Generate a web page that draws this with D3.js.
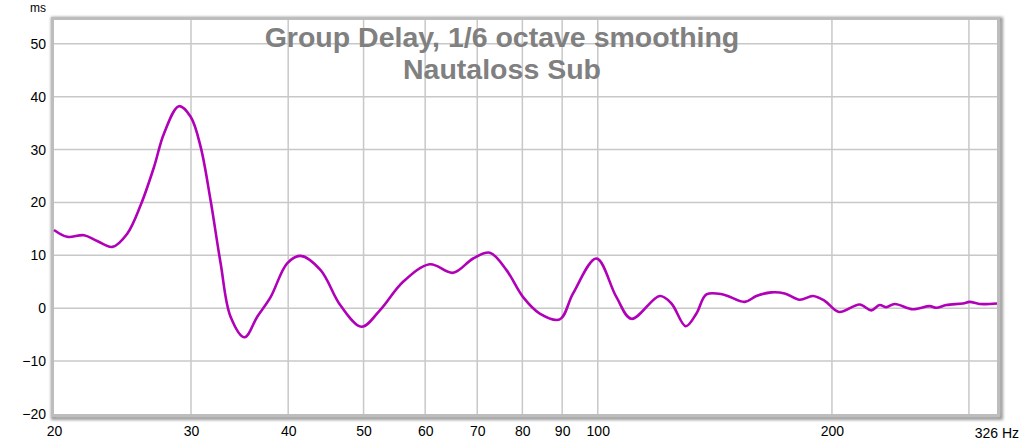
<!DOCTYPE html>
<html>
<head>
<meta charset="utf-8">
<script src="https://cdn.jsdelivr.net/npm/d3@7"></script>
<style>
  html, body { margin: 0; padding: 0; background: #fff; }
  svg { display: block; font-family: "Liberation Sans", Arial, sans-serif; }
</style>
</head>
<body>
<div class="gd-chart"></div>
<script>
const freqs = [20, 20.8, 21.86, 22.73, 23.77, 24.84, 25.85, 26.89, 27.69, 28.95,
  29.97, 30.87, 31.79, 32.75, 33.73, 35.16, 36.5, 37.97, 39.88, 41.5,
  44.03, 46.71, 49.71, 52.47, 56.21, 60.83, 65.18, 69.15, 72.65, 76.33,
  80.18, 84.23, 89.37, 92.96, 99.62, 105.69, 110.49, 120.14, 124.37, 129.74,
  133.92, 137.94, 144.88, 154.49, 159.93, 167.19, 173.89, 181.78, 189.07, 195.75,
  204.21, 217.1, 224.74, 230.34, 234.94, 240.8, 254.18, 267.06, 272.4, 280.58,
  294.7, 300.62, 309.63, 326];
const delayMs = [14.8, 13.5, 13.8, 12.7, 11.6, 14.1, 19.5, 26.7, 33, 38.2,
  36.2, 30.5, 20.4, 8.5, -1.6, -5.5, -1.6, 2.1, 8.5, 9.9,
  7.2, 0.5, -3.5, -0.4, 5.0, 8.3, 6.7, 9.4, 10.5, 7.2,
  2.1, -1.0, -2.1, 2.8, 9.4, 2.1, -2.0, 2.3, 0.9, -3.4,
  -1.0, 2.6, 2.6, 1.2, 2.3, 3.0, 2.8, 1.6, 2.3, 1.4,
  -0.7, 0.7, -0.4, 0.6, 0.2, 0.8, -0.2, 0.4, 0.1, 0.6,
  0.9, 1.2, 0.8, 0.9];

const xGrid = [30, 40, 50, 60, 70, 80, 90, 100, 200, 300];
const xLabels = [20, 30, 40, 50, 60, 70, 80, 90, 100, 200];
const yTicks = [-20, -10, 0, 10, 20, 30, 40, 50];
const titleLines = ["Group Delay, 1/6 octave smoothing", "Nautaloss Sub"];

const width = 1024, height = 445;
const margin = {top: 20, right: 27, bottom: 31, left: 54};

const svg = d3.select(".gd-chart").append("svg")
  .attr("width", width).attr("height", height);

const x = d3.scaleLog()
  .domain([20, 326])
  .range([margin.left, width - margin.right]);

const y = d3.scaleLinear()
  .domain([-20, 54.5])
  .range([height - margin.bottom, margin.top]);

// frame with soft shadow
const defs = svg.append("defs");
const blur = defs.append("filter").attr("id", "shadow")
  .attr("x", "-5%").attr("y", "-5%").attr("width", "110%").attr("height", "110%");
blur.append("feGaussianBlur").attr("stdDeviation", 1.5);

const x0 = x.range()[0], x1 = x.range()[1];
const y0 = y.range()[1], y1 = y.range()[0];

svg.append("rect")
  .attr("x", x0 - 1).attr("y", y0 - 1)
  .attr("width", x1 - x0 + 5).attr("height", y1 - y0 + 5)
  .attr("fill", "none").attr("stroke", "#9a9a9a").attr("stroke-width", 4)
  .attr("filter", "url(#shadow)");

svg.append("rect")
  .attr("x", x0).attr("y", y0)
  .attr("width", x1 - x0).attr("height", y1 - y0)
  .attr("fill", "#fff");

// grid
const grid = svg.append("g").attr("stroke", "#c8c8c8").attr("stroke-width", 1.5);
grid.selectAll(".vg").data(xGrid).join("line")
  .attr("x1", d => x(d)).attr("x2", d => x(d))
  .attr("y1", y0).attr("y2", y1);
grid.selectAll(".hg").data(yTicks.filter(d => d > -20)).join("line")
  .attr("x1", x0).attr("x2", x1)
  .attr("y1", d => y(d)).attr("y2", d => y(d));

svg.append("rect")
  .attr("x", x0 - 1.5).attr("y", y0 - 1.5)
  .attr("width", x1 - x0 + 3).attr("height", y1 - y0 + 3)
  .attr("fill", "none").attr("stroke", "#bdbdbd").attr("stroke-width", 3);

// axis labels
const yAxis = g => g
  .attr("transform", `translate(${x0 - 6},0)`)
  .call(d3.axisLeft(y).tickValues(yTicks).tickSize(0).tickPadding(2))
  .call(g => g.select(".domain").remove())
  .call(g => g.selectAll("text").attr("font-size", 14).attr("fill", "#000")
    .attr("font-family", "Liberation Sans, Arial, sans-serif"));
svg.append("g").call(yAxis);

const xAxis = g => g
  .attr("transform", `translate(0,${y1 + 10})`)
  .call(d3.axisBottom(x).tickValues(xLabels).tickFormat(d3.format("d")).tickSize(0).tickPadding(2))
  .call(g => g.select(".domain").remove())
  .call(g => g.selectAll("text").attr("font-size", 14).attr("fill", "#000")
    .attr("font-family", "Liberation Sans, Arial, sans-serif"));
svg.append("g").call(xAxis);

svg.append("text")
  .attr("x", x1 + 5).attr("y", y1 + 24)
  .attr("text-anchor", "start")
  .attr("font-size", 14)
  .text("Hz");
svg.append("text")
  .attr("x", x1 + 1).attr("y", y1 + 24)
  .attr("text-anchor", "end")
  .attr("font-size", 14)
  .text("326");

svg.append("text")
  .attr("x", 30).attr("y", 12)
  .attr("font-size", 12)
  .text("ms");

// title
svg.append("g").selectAll("text").data(titleLines).join("text")
  .attr("x", 502)
  .attr("y", (d, i) => 47 + i * 32)
  .attr("text-anchor", "middle")
  .attr("font-size", 28.5)
  .attr("font-weight", "bold")
  .attr("fill", "#808080")
  .text(d => d);

// curve
const line = d3.line()
  .x(d => x(d[0]))
  .y(d => y(d[1]))
  .curve(d3.curveCatmullRom.alpha(0.5));

svg.append("path")
  .datum(d3.zip(freqs, delayMs))
  .attr("fill", "none")
  .attr("stroke", "#b000b8")
  .attr("stroke-width", 2.6)
  .attr("stroke-linejoin", "round")
  .attr("d", line);
</script>
</body>
</html>
